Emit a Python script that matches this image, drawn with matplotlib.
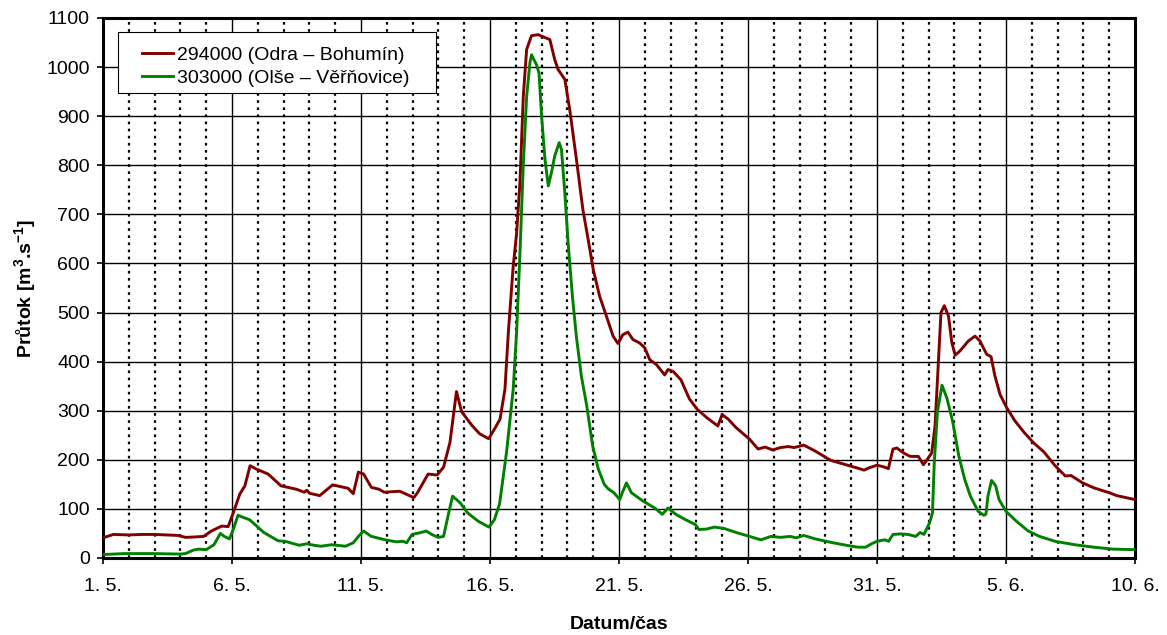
import matplotlib
matplotlib.use("Agg")
import matplotlib.pyplot as plt
from matplotlib.patches import Rectangle
import numpy as np

plt.rcParams['font.family'] = ['Liberation Sans', 'DejaVu Sans']
plt.rcParams['mathtext.fontset'] = 'custom'
plt.rcParams['mathtext.rm'] = 'Liberation Sans'
plt.rcParams['mathtext.bf'] = 'Liberation Sans:bold'
plt.rcParams['mathtext.default'] = 'bf'

# days since 1. 5.
tick_pos = [0, 5, 10, 15, 20, 25, 30, 35, 40]
tick_labels = ["1. 5.", "6. 5.", "11. 5.", "16. 5.", "21. 5.", "26. 5.", "31. 5.", "5. 6.", "10. 6."]

odra_t = [0, 0.4, 1.0, 1.5, 2.0, 2.5, 2.9, 3.2, 3.6, 3.9, 4.2, 4.6, 4.85, 5.05, 5.3, 5.5, 5.7,
          5.95, 6.4, 6.9, 7.5, 7.8, 7.9, 8.0, 8.4, 8.9, 9.5, 9.7, 9.9, 10.1, 10.4, 10.7, 10.9,
          11.5, 12.05, 12.2, 12.6, 12.95, 13.2, 13.45, 13.7, 13.9, 14.3, 14.6, 14.95, 15.2,
          15.39, 15.58, 15.71, 15.9, 16.03, 16.16, 16.29, 16.42, 16.61, 16.87, 17.32, 17.51,
          17.64, 17.9, 18.1, 18.35, 18.6, 18.87, 19.0, 19.25, 19.51, 19.77, 19.96, 20.15,
          20.35, 20.54, 20.8, 21.0, 21.19, 21.45, 21.77, 21.9, 22.1, 22.4, 22.73, 23.03, 23.4,
          23.83, 24.0, 24.23, 24.53, 25.06, 25.39, 25.66, 25.96, 26.26, 26.56, 26.79, 27.16,
          27.6, 28.2, 28.8, 29.19, 29.5, 29.71, 30.0, 30.24, 30.44, 30.62, 30.77, 31.03, 31.28,
          31.6, 31.8, 31.99, 32.12, 32.25, 32.38, 32.48, 32.61, 32.77, 32.9, 33.03, 33.22,
          33.54, 33.8, 33.99, 34.25, 34.42, 34.57, 34.77, 35.03, 35.35, 35.7, 36.06, 36.47,
          36.92, 37.3, 37.52, 37.97, 38.4, 39.0, 39.3, 40.0]
odra_q = [41, 48, 47, 48, 48, 47, 46, 42, 43, 44, 55, 65, 64, 92, 130, 147, 188,
          181, 171, 147, 140, 134, 138, 132, 127, 149, 142, 131, 175, 171, 144, 140, 134,
          136, 123, 134, 171, 169, 185, 236, 339, 298, 270, 253, 243, 265,
          283, 344, 459, 595, 660, 764, 940, 1036, 1064, 1066, 1056, 1015,
          995, 975, 910, 812, 710, 629, 588, 533, 493, 452, 437, 455,
          460, 445, 438, 428, 404, 394, 373, 384, 380, 363, 324, 303, 286,
          269, 292, 283, 266, 242, 222, 226, 220, 225, 227, 225, 230,
          218, 199, 190, 184, 179, 184, 189, 186, 182, 222, 224, 214, 207,
          207, 190, 204, 214, 269, 398, 500, 514, 493, 439, 413, 422,
          442, 452, 442, 415, 410, 371, 333, 306, 279, 256, 235, 216,
          187, 167, 168, 153, 143, 133, 127, 119]

olse_t = [0, 0.83, 1.9, 3.0, 3.2, 3.5, 3.7, 4.0, 4.3, 4.55, 4.7, 4.9, 5.05, 5.23, 5.47, 5.68,
          5.96, 6.23, 6.79, 7.06, 7.6, 7.9, 8.17, 8.45, 8.86, 9.4, 9.7, 9.9, 10.1, 10.4, 10.94,
          11.36, 11.63, 11.77, 11.98, 12.33, 12.53, 12.74, 13.0, 13.2, 13.4, 13.55, 13.85,
          14.13, 14.54, 14.96, 15.17, 15.37, 15.64, 15.9, 16.03, 16.16, 16.29, 16.42, 16.55,
          16.61, 16.8, 16.9, 17.0, 17.13, 17.26, 17.38, 17.51, 17.68, 17.77, 17.9, 18.03, 18.2,
          18.35, 18.54, 18.75, 18.98, 19.2, 19.43, 19.58, 19.8, 20.03, 20.15, 20.29, 20.48,
          20.93, 21.38, 21.68, 21.9, 22.2, 22.58, 22.96, 23.1, 23.4, 23.7, 24.08, 24.6, 25.06,
          25.5, 25.89, 26.26, 26.64, 26.86, 27.16, 27.6, 28.2, 28.8, 29.26, 29.56, 29.79, 30.0,
          30.3, 30.45, 30.62, 30.92, 31.2, 31.5, 31.67, 31.82, 32.04, 32.15, 32.22, 32.34,
          32.52, 32.72, 32.94, 33.17, 33.4, 33.62, 33.92, 34.14, 34.22, 34.3, 34.44, 34.6,
          34.73, 35.0, 35.4, 35.86, 36.3, 36.9, 37.67, 38.4, 39.17, 40.0]
olse_q = [7, 9, 9, 8, 9, 16, 18, 17, 27, 50, 44, 39, 58, 87, 82, 78,
          65, 52, 35, 34, 26, 29, 26, 24, 27, 24, 31, 44, 55, 44, 37,
          33, 34, 31, 48, 52, 55, 48, 42, 44, 92, 126, 112,
          92, 75, 63, 78, 110, 215, 344, 459, 620, 800, 940, 1010,
          1025, 1005, 988, 900, 812, 758, 785, 819, 846, 832, 744, 640, 530,
          450, 371, 310, 228, 181, 150, 141, 133, 119, 136, 153, 133,
          116, 102, 89, 102, 89, 78, 68, 58, 59, 63, 60, 51, 44,
          37, 44, 42, 44, 41, 46, 39, 32, 26, 22, 22, 29, 34,
          37, 34, 48, 49, 48, 44, 52, 48, 72, 92, 194, 297,
          352, 324, 276, 208, 160, 126, 95, 87, 89, 126, 158, 147,
          119, 95, 75, 55, 44, 34, 27, 22, 18, 17]

fig = plt.figure(figsize=(11.67, 6.35), dpi=100)
ax = fig.add_axes([103 / 1167, 1 - 558 / 635, 1032 / 1167, 540 / 635])

ax.set_xlim(0, 40)
ax.set_ylim(0, 1100)

# grid: solid every 5 days / 100 m3/s, dotted every day
for d in range(1, 40):
    if d % 5 == 0:
        ax.axvline(d, color='black', lw=1.0, zorder=1)
    else:
        ax.axvline(d, color='black', lw=1.6, linestyle=(0, (1.2, 2.0)), zorder=1)
for q in range(100, 1100, 100):
    ax.axhline(q, color='black', lw=1.0, zorder=1)

ax.plot(odra_t, odra_q, color='#800000', lw=2.1, zorder=3,
        label='294000 (Odra – Bohumín)')
ax.plot(olse_t, olse_q, color='#008000', lw=2.1, zorder=3,
        label='303000 (Olše – Věřňovice)')

ax.set_xticks(tick_pos)
ax.set_xticklabels(tick_labels)
ax.set_yticks(np.arange(0, 1101, 100))
ax.tick_params(axis='both', direction='out', length=4.5, width=1.2, labelsize=14)
ax.tick_params(axis='x', pad=10)
ax.tick_params(axis='y', pad=5)

for s in ax.spines.values():
    s.set_linewidth(2.2)
    s.set_color('black')

ax.set_ylabel(r'Průtok [m$^{3}$.s$^{-1}$]', fontsize=14, fontweight='bold', labelpad=6)
ax.set_xlabel('Datum/čas', fontsize=14, fontweight='bold', labelpad=15)

# legend box drawn separately (wider padding than matplotlib's frame)
ax.add_patch(Rectangle((15 / 1032, 465 / 540), 318 / 1032, 61 / 540, transform=ax.transAxes,
                       facecolor='white', edgecolor='black', lw=0.8, zorder=4.5))
leg = ax.legend(loc='center left', bbox_to_anchor=(39 / 1032, 491.5 / 540),
                borderaxespad=0, borderpad=0, fontsize=14, frameon=False,
                handlelength=1.6, handletextpad=0.2, labelspacing=0.25)

fig.savefig('out.png', dpi=100)
